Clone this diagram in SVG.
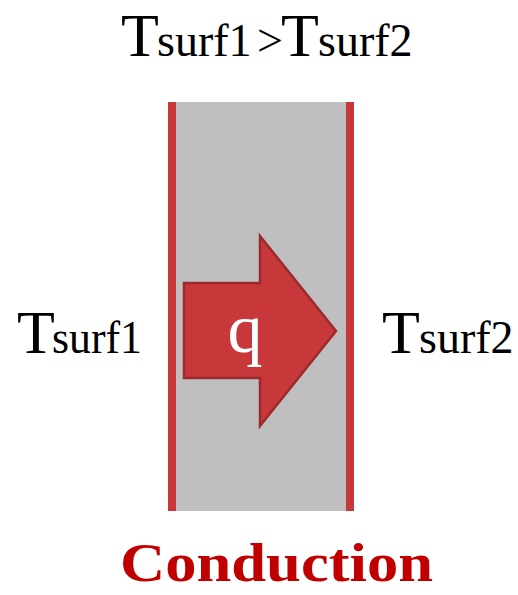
<svg xmlns="http://www.w3.org/2000/svg" width="518" height="595" viewBox="0 0 518 595">
<style>
.lbl{font-family:"Liberation Serif","DejaVu Serif",serif;fill:#000}
.big{font-size:62px}
.sm{font-size:46px}
.bar{fill:#c8383b}
</style>
<rect width="518" height="595" fill="#fff"/>
<g id="wall">
<rect x="168" y="102" width="186" height="409" fill="#bfbfbf"/>
<rect class="bar" x="168" y="102" width="8" height="409"/>
<rect class="bar" x="346" y="102" width="8" height="409"/>
</g>
<g id="heat-arrow">
<polygon points="184,283 260,283 260,236 336,331 260,426 260,378 184,378" fill="#c8373a" stroke="#9b2a2d" stroke-width="2.5" stroke-linejoin="miter"/>
<text x="245" y="352" text-anchor="middle" font-family="'Liberation Serif','DejaVu Serif',serif" font-size="70" fill="#fff">q</text>
</g>
<g id="title">
<text class="lbl" y="56"><tspan class="big" x="121">T</tspan><tspan class="sm" x="157">surf1</tspan><tspan class="sm" x="257">&gt;</tspan><tspan class="big" x="281">T</tspan><tspan class="sm" x="318">surf2</tspan></text>
</g>
<g id="t-surf1">
<text class="lbl" y="353"><tspan class="big" x="17">T</tspan><tspan class="sm" x="52" textLength="90" lengthAdjust="spacingAndGlyphs">surf1</tspan></text>
</g>
<g id="t-surf2">
<text class="lbl" y="353"><tspan class="big" x="382">T</tspan><tspan class="sm" x="419">surf2</tspan></text>
</g>
<g id="caption">
<text x="120" y="581" font-family="'Liberation Serif','DejaVu Serif',serif" font-weight="bold" font-size="54" fill="#c00000" textLength="313" lengthAdjust="spacingAndGlyphs">Conduction</text>
</g>
</svg>
